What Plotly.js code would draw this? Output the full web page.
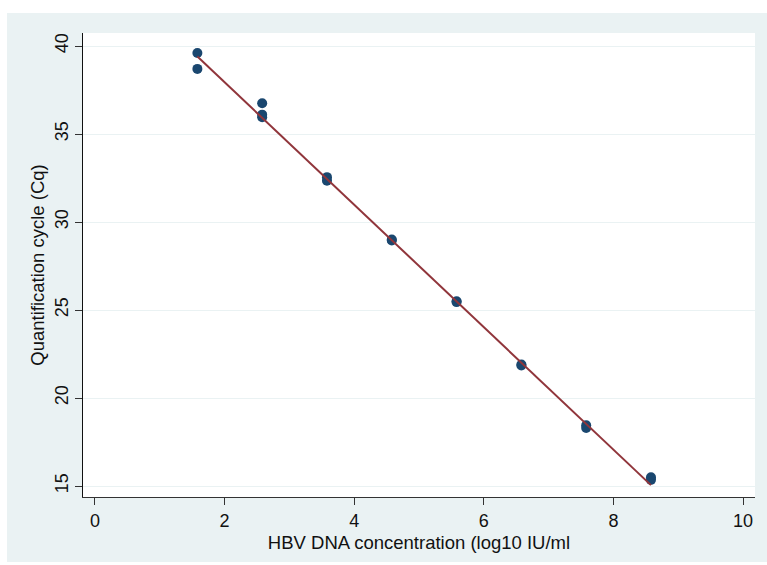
<!DOCTYPE html>
<html>
<head>
<meta charset="utf-8">
<script src="https://cdn.plot.ly/plotly-3.0.1.min.js"></script>
<style>
  html, body { margin: 0; padding: 0; background: #ffffff; width: 767px; height: 565px; overflow: hidden; }
  #chart { position: absolute; left: 7px; top: 13px; width: 760px; height: 549px; }
</style>
</head>
<body>
<div id="chart"></div>
<script>
// Observed data: log10 HBV DNA concentration vs Cq
const concX = [1.58, 1.58, 2.58, 2.58, 2.58, 3.58, 3.58, 4.58, 4.58, 5.58, 5.58, 6.58, 6.58, 7.58, 7.58, 8.58, 8.58];
const cqY   = [39.6, 38.7, 36.75, 36.1, 35.95, 32.55, 32.35, 29.0, 28.95, 25.5, 25.45, 21.9, 21.85, 18.45, 18.3, 15.5, 15.35];

// Fitted line endpoints
const fitX = [1.58, 8.58];
const fitY = [39.4, 15.05];

const xTicks = [0, 2, 4, 6, 8, 10];
const yTicks = [15, 20, 25, 30, 35, 40];

const font = "Liberation Sans, Arial, sans-serif";

const traces = [
  {
    x: concX, y: cqY, type: 'scatter', mode: 'markers',
    marker: { color: '#1A476F', size: 10, line: { width: 0 } },
    hoverinfo: 'skip', showlegend: false
  },
  {
    x: fitX, y: fitY, type: 'scatter', mode: 'lines',
    line: { color: '#90353B', width: 2 },
    hoverinfo: 'skip', showlegend: false
  }
];

const layout = {
  width: 760, height: 549,
  paper_bgcolor: '#EAF2F3',
  plot_bgcolor: '#ffffff',
  margin: { l: 76, r: 12, t: 20, b: 65 },
  font: { family: font, size: 18, color: '#111111' },
  showlegend: false,
  xaxis: {
    range: [-0.185, 10.185],
    tickvals: xTicks,
    ticktext: xTicks.map(String),
    ticks: 'outside', ticklen: 7, tickcolor: '#333333', tickwidth: 1,
    showgrid: false, zeroline: false,
    showline: true, linecolor: '#333333', linewidth: 1,
    tickfont: { family: font, size: 18, color: '#111111' },
    title: { text: 'HBV DNA concentration (log10 IU/ml', font: { family: font, size: 18.5, color: '#111111' }, standoff: 6 }
  },
  yaxis: {
    range: [14.375, 40.74],
    tickvals: yTicks,
    ticktext: yTicks.map(String),
    tickangle: -90,
    ticks: 'outside', ticklen: 7, tickcolor: '#333333', tickwidth: 1,
    showgrid: true, gridcolor: '#EAF2F3', gridwidth: 1,
    zeroline: false,
    showline: true, linecolor: '#111111', linewidth: 1,
    tickfont: { family: font, size: 18, color: '#111111' },
    title: { text: 'Quantification cycle (Cq)', font: { family: font, size: 18.5, color: '#111111' }, standoff: 2 }
  }
};

Plotly.newPlot('chart', traces, layout, { staticPlot: true, displayModeBar: false });
</script>
</body>
</html>
